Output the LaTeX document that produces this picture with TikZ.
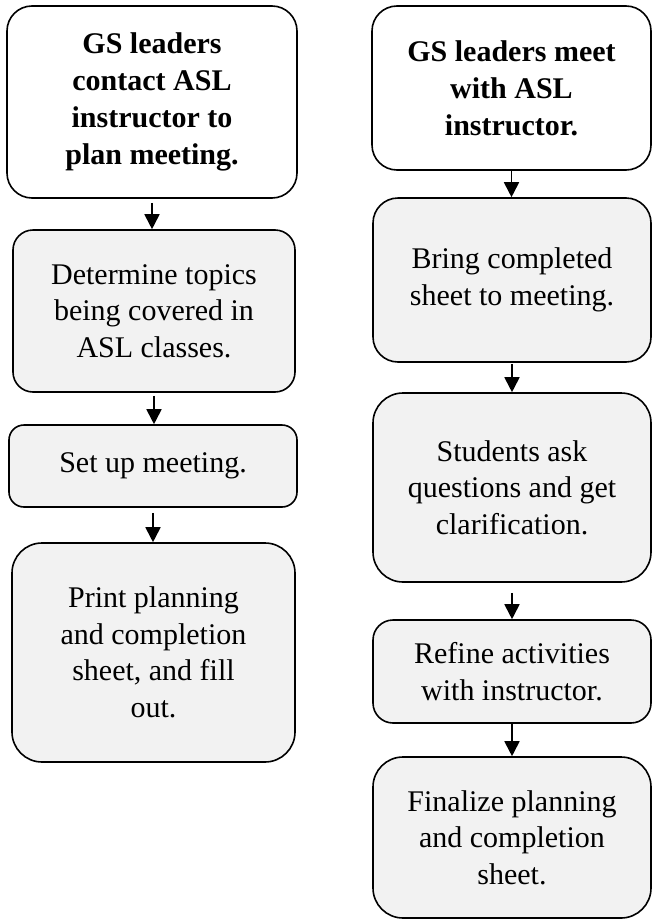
\documentclass[tikz,border=0pt]{standalone}
\usepackage{fontspec}
\setmainfont{Liberation Serif}
\usetikzlibrary{arrows.meta,calc,positioning}
\definecolor{boxgray}{HTML}{F2F2F2}

\begin{document}
\begin{tikzpicture}[x=1pt,y=-1pt,
            box/.style={draw, line width=1.6pt, fill=boxgray, align=center, inner sep=0pt,
                        font=\fontsize{30}{36.5}\selectfont},
            head/.style={box, fill=white, font=\fontsize{30}{37}\selectfont\bfseries},
            flow/.style={line width=1.8pt, -{Triangle[width=15pt,length=15pt]}}]
            \useasboundingbox (0,0) rectangle (652,921);
            % left column
            \node[head, minimum width=290, minimum height=192, rounded corners=25] (l1) at (152,102)
                {GS leaders\\contact ASL\\instructor to\\plan meeting.};
            \node[box, minimum width=282, minimum height=162, rounded corners=20] (l2) at (154,311)
                {Determine topics\\being covered in\\ASL classes.};
            \node[box, minimum width=288, minimum height=82, rounded corners=15] (l3) at (153,466)
                {Set up meeting.};
            \node[box, minimum width=283, minimum height=219, rounded corners=30] (l4) at (153.5,652.5)
                {Print planning\\and completion\\sheet, and fill\\out.};
            % right column
            \node[head, minimum width=279, minimum height=164, rounded corners=25] (r1) at (511.5,88)
                {GS leaders meet\\with ASL\\instructor.};
            \node[box, minimum width=278, minimum height=164, rounded corners=25] (r2) at (512,280)
                {Bring completed\\sheet to meeting.};
            \node[box, minimum width=278, minimum height=189, rounded corners=30] (r3) at (512,487.5)
                {Students ask\\questions and get\\clarification.};
            \node[box, minimum width=278, minimum height=103, rounded corners=20] (r4) at (512,671.5)
                {Refine activities\\with instructor.};
            \node[box, minimum width=278, minimum height=161, rounded corners=30] (r5) at (512,837.5)
                {Finalize planning\\and completion\\sheet.};
            % arrows
            \foreach \a/\b/\s in {l1/l2/4, l2/l3/3, l3/l4/5, r1/r2/0, r2/r3/1, r3/r4/10, r4/r5/0}
                \draw[flow, shorten <=\s pt] (\a.south) -- (\a.south |- \b.north);
          \end{tikzpicture}
\end{document}
